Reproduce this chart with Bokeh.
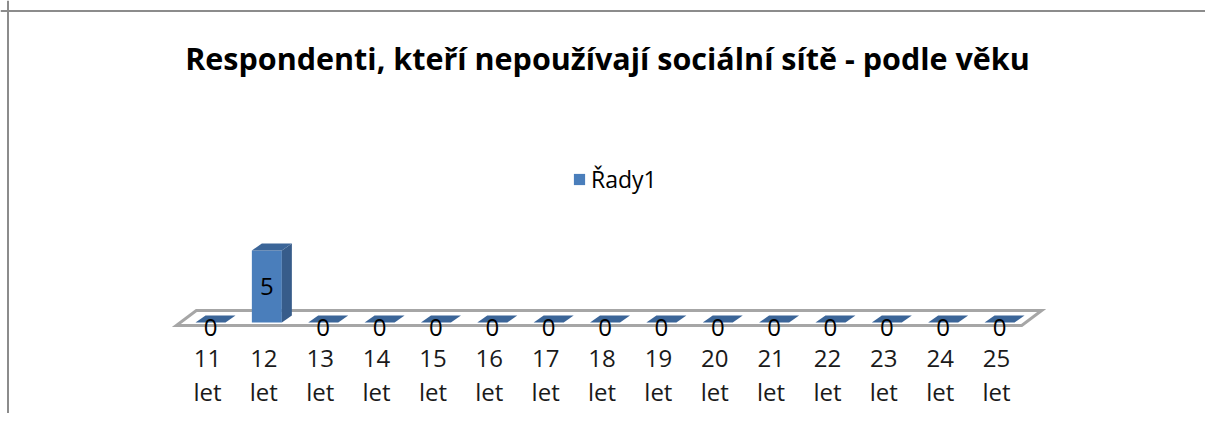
from bokeh.plotting import figure
from bokeh.models import Range1d, Span, Legend, LegendItem, ColumnDataSource
from bokeh.core.properties import value
from bokeh.embed import file_html
from bokeh.resources import INLINE

# ---- data ----
categories = ["11 let", "12 let", "13 let", "14 let", "15 let", "16 let", "17 let",
              "18 let", "19 let", "20 let", "21 let", "22 let", "23 let", "24 let", "25 let"]
values = [0, 5, 0, 0, 0, 0, 0, 0, 0, 0, 0, 0, 0, 0, 0]
series_name = "Řady1"
title_text = "Respondenti, kteří nepoužívají sociální sítě - podle věku"

# ---- layout (figure pixels -> data units) ----
W, H = 1205, 413
X0, STEP = 207.0, 56.36      # x of first category centre, px per category
Y0, UNIT = 322.0, 14.4       # y of value 0, px per value unit

def dx(px):
    return px / STEP

def dy(px):
    return px / UNIT

def xd(fx):
    return (fx - X0) / STEP

def yd(fy):
    return (Y0 - fy) / UNIT

p = figure(width=W, height=H, output_backend="svg", toolbar_location=None,
           x_range=Range1d(xd(0), xd(W)), y_range=Range1d(yd(H), yd(0)),
           min_border=0, outline_line_color=None)
p.axis.visible = False
p.grid.visible = False
p.background_fill_color = "white"
p.border_fill_color = "white"

FONT = "Open Sans"
n = len(categories)
idx = list(range(n))

# chart border (left + top)
p.add_layout(Span(location=xd(7.5), dimension="height", line_color="#8c8c8c", line_width=2))
p.add_layout(Span(location=yd(10.5), dimension="width", line_color="#8c8c8c", line_width=2))

# 3D floor
fdx, fdy = dx(20), dy(15)
fl, fr = -0.5 - dx(3), n - 0.5 - dx(3)
ffront, fback = dy(-3), dy(-3) + fdy
p.patch([fl, fr, fr + fdx, fl + fdx], [ffront, ffront, fback, fback],
        fill_color="white", line_color="#a6a6a6", line_width=3, line_join="miter")

# bars
bw = dx(30)
bdx, bdy = dx(10), dy(7)
shift = dx(3)
xc = [i + shift for i in idx]
src = ColumnDataSource(dict(x=xc, top=values))
front = p.vbar(x="x", top="top", bottom=0, width=bw, source=src,
               fill_color="#4a7ebb", line_color=None)

side_xs, side_ys, top_xs, top_ys = [], [], [], []
for x, v in zip(xc, values):
    l, r = x - bw / 2, x + bw / 2
    top_xs.append([l, r, r + bdx, l + bdx])
    top_ys.append([v, v, v + bdy, v + bdy])
    side_xs.append([r, r + bdx, r + bdx, r])
    side_ys.append([0, bdy, v + bdy, v])
p.patches(side_xs, side_ys, fill_color="#375c8a", line_color=None)
p.patches(top_xs, top_ys, fill_color="#3b6598", line_color=None)

# data labels
lab_y = [v / 2 if v > 0 else dy(-5) for v in values]
p.text(x=xc, y=lab_y, text=[str(v) for v in values], text_align="center",
       text_baseline="middle", text_font=value(FONT), text_font_size="24px",
       text_color="black")

# category labels
nums = [c.split(" ")[0] for c in categories]
lets = [c.split(" ")[1] for c in categories]
p.text(x=idx, y=[yd(358)] * n, text=nums, text_align="center", text_baseline="middle",
       text_font=value(FONT), text_font_size="24px", text_color="#1a1a1a")
p.text(x=idx, y=[yd(391)] * n, text=lets, text_align="center", text_baseline="middle",
       text_font=value(FONT), text_font_size="24px", text_color="#1a1a1a")

# title
p.text(x=[xd(607)], y=[yd(57)], text=[title_text], text_align="center",
       text_baseline="middle", text_font=value(FONT), text_font_size="30.5px",
       text_font_style="bold", text_color="black")

# legend
legend = Legend(items=[LegendItem(label=series_name, renderers=[front])],
                location=(572, 218), orientation="horizontal",
                glyph_width=14, glyph_height=14, label_standoff=5, padding=0, margin=0,
                border_line_color=None, background_fill_alpha=0,
                label_text_font=FONT, label_text_font_size="23px", label_text_color="black")
p.add_layout(legend, "center")

open("out.html", "w").write(file_html(p, INLINE))
